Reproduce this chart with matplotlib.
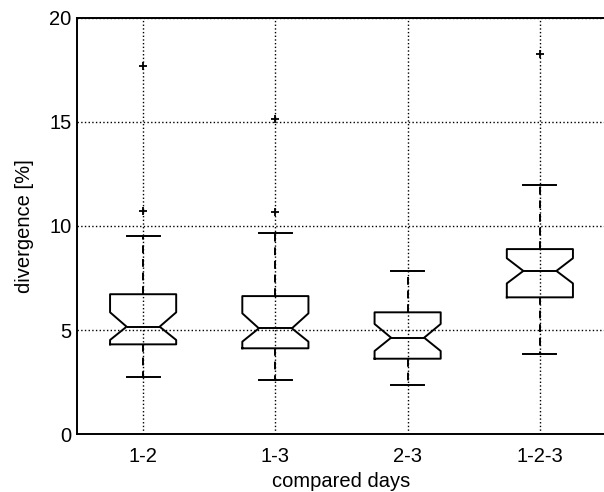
import matplotlib.pyplot as plt

plt.rcParams['font.family'] = ['Liberation Sans', 'DejaVu Sans']

# Summary statistics per comparison
labels = ['1-2', '1-3', '2-3', '1-2-3']
q1 = [4.31, 4.12, 3.62, 6.57]
med = [5.16, 5.08, 4.63, 7.84]
q3 = [6.72, 6.63, 5.85, 8.89]
ci_lo = [4.52, 4.44, 3.99, 7.24]
ci_hi = [5.85, 5.80, 5.29, 8.45]
whis_lo = [2.76, 2.60, 2.36, 3.85]
whis_hi = [9.53, 9.64, 7.82, 11.97]
outliers = [[10.74, 17.69], [10.67, 15.14], [], [18.27]]

stats = []
for i in range(len(labels)):
    stats.append(dict(label=labels[i], q1=q1[i], med=med[i], q3=q3[i],
                      cilo=ci_lo[i], cihi=ci_hi[i],
                      whislo=whis_lo[i], whishi=whis_hi[i],
                      fliers=outliers[i]))

fig = plt.figure(figsize=(6.04, 4.92), dpi=100)
# right edge runs past the figure, as in the exported MATLAB figure
ax = fig.add_axes([77 / 604, 58 / 492, 529 / 604, 416 / 492])

ax.bxp(stats, positions=[1, 2, 3, 4], widths=0.5, shownotches=True,
       boxprops=dict(color='black', linewidth=1.4),
       medianprops=dict(color='black', linewidth=1.4),
       whiskerprops=dict(color='black', linewidth=1.4, linestyle=(0, (4, 3))),
       capprops=dict(color='black', linewidth=1.4),
       capwidths=0.25,
       flierprops=dict(marker='+', markeredgecolor='black', markersize=6,
                       markeredgewidth=1.3))

ax.set_xlim(0.5, 4.5)
ax.set_ylim(0, 20)
ax.set_yticks([0, 5, 10, 15, 20])
ax.set_xticks([1, 2, 3, 4])
ax.set_xticklabels(labels)
ax.tick_params(direction='in', length=0, labelsize=14.5)
ax.tick_params(axis='x', pad=9)
ax.tick_params(axis='y', pad=4)
ax.grid(True, linestyle=':', color='black', linewidth=1.0)
ax.set_axisbelow(True)
for s in ax.spines.values():
    s.set_linewidth(1.4)

ax.set_xlabel('compared days', fontsize=14.5, labelpad=5)
ax.set_ylabel('divergence [%]', fontsize=14.5, labelpad=11)

fig.savefig('out.png', dpi=100)
